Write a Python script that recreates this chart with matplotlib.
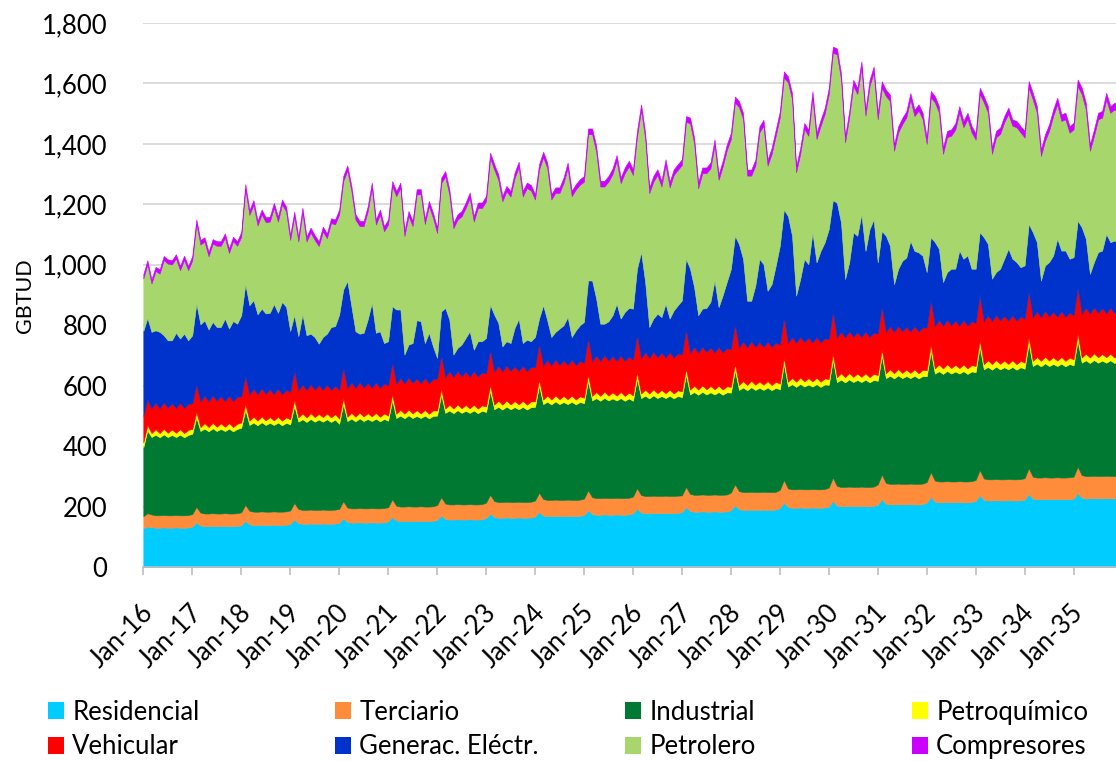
import matplotlib
matplotlib.use('Agg')
import matplotlib.pyplot as plt
import numpy as np
import matplotlib.transforms as mtransforms
from matplotlib.ticker import FuncFormatter
from matplotlib.patches import Patch

plt.rcParams['font.family'] = ['Lato', 'DejaVu Sans']

# ---------------- data (monthly, Jan-16 ... Dec-35) ----------------
tick_labels = ['Jan-16', 'Jan-17', 'Jan-18', 'Jan-19', 'Jan-20', 'Jan-21', 'Jan-22',
               'Jan-23', 'Jan-24', 'Jan-25', 'Jan-26', 'Jan-27', 'Jan-28', 'Jan-29',
               'Jan-30', 'Jan-31', 'Jan-32', 'Jan-33', 'Jan-34', 'Jan-35']

labels = ['Residencial', 'Terciario', 'Industrial', 'Petroquímico',
          'Vehicular', 'Generac. Eléctr.', 'Petrolero', 'Compresores']

residencial = [
    128, 134, 132, 130, 130, 131, 130, 130, 131, 130, 130, 131,
    134, 148, 137, 135, 135, 136, 135, 135, 136, 135, 135, 136,
    138, 153, 141, 139, 139, 140, 139, 139, 140, 139, 139, 140,
    142, 157, 145, 143, 143, 144, 143, 143, 144, 143, 143, 144,
    146, 161, 149, 147, 147, 148, 147, 147, 148, 147, 147, 148,
    151, 166, 154, 152, 152, 153, 152, 152, 153, 152, 152, 153,
    156, 171, 159, 157, 157, 158, 157, 157, 158, 157, 157, 158,
    162, 177, 165, 163, 163, 164, 163, 163, 164, 163, 163, 164,
    167, 182, 170, 168, 168, 169, 168, 168, 169, 168, 168, 169,
    172, 188, 175, 173, 173, 174, 173, 173, 174, 173, 173, 174,
    177, 193, 180, 178, 178, 179, 178, 178, 179, 178, 178, 179,
    182, 198, 185, 183, 183, 184, 183, 183, 184, 183, 183, 184,
    188, 204, 191, 189, 189, 190, 189, 189, 190, 189, 189, 190,
    195, 214, 198, 196, 196, 197, 196, 196, 197, 196, 196, 197,
    200, 219, 203, 201, 201, 202, 201, 201, 202, 201, 201, 202,
    206, 225, 209, 207, 207, 208, 207, 207, 208, 207, 207, 208,
    213, 232, 216, 214, 214, 215, 214, 214, 215, 214, 214, 215,
    219, 238, 222, 220, 220, 221, 220, 220, 221, 220, 220, 221,
    223, 242, 226, 224, 224, 225, 224, 224, 225, 224, 224, 225,
    226, 245, 229, 227, 227, 228, 227, 227, 228, 227, 227, 228,
]

terciario = [
    40, 44, 42, 41, 41, 41, 41, 41, 41, 41, 41, 41,
    41, 51, 43, 42, 42, 42, 42, 42, 42, 42, 42, 42,
    43, 53, 45, 44, 44, 44, 44, 44, 44, 44, 44, 44,
    45, 55, 47, 46, 46, 46, 46, 46, 46, 46, 46, 46,
    46, 57, 48, 47, 47, 47, 47, 47, 47, 47, 47, 47,
    47, 58, 49, 48, 48, 48, 48, 48, 48, 48, 48, 48,
    49, 60, 51, 50, 50, 50, 50, 50, 50, 50, 50, 50,
    51, 62, 53, 52, 52, 52, 52, 52, 52, 52, 52, 52,
    53, 64, 55, 54, 54, 54, 54, 54, 54, 54, 54, 54,
    54, 66, 56, 55, 55, 55, 55, 55, 55, 55, 55, 55,
    56, 68, 58, 57, 57, 57, 57, 57, 57, 57, 57, 57,
    55, 67, 57, 56, 56, 56, 56, 56, 56, 56, 56, 56,
    58, 70, 60, 59, 59, 59, 59, 59, 59, 59, 59, 59,
    60, 74, 62, 61, 61, 61, 61, 61, 61, 61, 61, 61,
    63, 77, 65, 64, 64, 64, 64, 64, 64, 64, 64, 64,
    67, 81, 69, 68, 68, 68, 68, 68, 68, 68, 68, 68,
    68, 82, 70, 69, 69, 69, 69, 69, 69, 69, 69, 69,
    69, 83, 71, 70, 70, 70, 70, 70, 70, 70, 70, 70,
    71, 85, 73, 72, 72, 72, 72, 72, 72, 72, 72, 72,
    73, 87, 75, 74, 74, 74, 74, 74, 74, 74, 74, 74,
]

industrial = [
    228, 274, 256, 267, 258, 267, 259, 266, 258, 267, 258, 265,
    266, 296, 270, 281, 272, 281, 273, 280, 272, 281, 272, 279,
    280, 314, 284, 295, 286, 295, 287, 294, 286, 295, 286, 293,
    285, 322, 289, 300, 291, 300, 292, 299, 291, 300, 291, 298,
    282, 322, 286, 297, 288, 297, 289, 296, 288, 297, 288, 295,
    286, 328, 290, 301, 292, 301, 293, 300, 292, 301, 292, 299,
    296, 340, 300, 311, 302, 311, 303, 310, 302, 311, 302, 309,
    300, 344, 304, 315, 306, 315, 307, 314, 306, 315, 306, 313,
    310, 354, 314, 325, 316, 325, 317, 324, 316, 325, 316, 323,
    316, 362, 320, 331, 322, 331, 323, 330, 322, 331, 322, 329,
    317, 363, 321, 332, 323, 332, 324, 331, 323, 332, 323, 330,
    325, 371, 329, 340, 331, 340, 332, 339, 331, 340, 331, 338,
    331, 377, 335, 346, 337, 346, 338, 345, 337, 346, 337, 344,
    333, 383, 337, 348, 339, 348, 340, 347, 339, 348, 339, 346,
    340, 390, 344, 355, 346, 355, 347, 354, 346, 355, 346, 353,
    343, 393, 347, 358, 349, 358, 350, 357, 349, 358, 349, 356,
    350, 400, 354, 365, 356, 365, 357, 364, 356, 365, 356, 363,
    357, 407, 361, 372, 363, 372, 364, 371, 363, 372, 363, 370,
    362, 412, 366, 377, 368, 377, 369, 376, 368, 377, 368, 375,
    368, 418, 372, 383, 374, 383, 375, 382, 374, 383, 374, 381,
]

petroquimico = [
    16, 18, 13, 18, 14, 18, 14, 18, 14, 18, 14, 17,
    16, 18, 13, 18, 14, 18, 14, 18, 14, 18, 14, 17,
    17, 19, 14, 19, 15, 19, 15, 19, 15, 19, 15, 18,
    17, 19, 14, 19, 15, 19, 15, 19, 15, 19, 15, 18,
    17, 19, 14, 19, 15, 19, 15, 19, 15, 19, 15, 18,
    17, 19, 14, 19, 15, 19, 15, 19, 15, 19, 15, 18,
    17, 19, 14, 19, 15, 19, 15, 19, 15, 19, 15, 18,
    18, 20, 15, 20, 16, 20, 16, 20, 16, 20, 16, 19,
    18, 20, 15, 20, 16, 20, 16, 20, 16, 20, 16, 19,
    18, 20, 15, 20, 16, 20, 16, 20, 16, 20, 16, 19,
    18, 20, 15, 20, 16, 20, 16, 20, 16, 20, 16, 19,
    19, 21, 16, 21, 17, 21, 17, 21, 17, 21, 17, 20,
    19, 21, 16, 21, 17, 21, 17, 21, 17, 21, 17, 20,
    19, 21, 16, 21, 17, 21, 17, 21, 17, 21, 17, 20,
    19, 21, 16, 21, 17, 21, 17, 21, 17, 21, 17, 20,
    19, 21, 16, 21, 17, 21, 17, 21, 17, 21, 17, 20,
    20, 22, 17, 22, 18, 22, 18, 22, 18, 22, 18, 21,
    20, 22, 17, 22, 18, 22, 18, 22, 18, 22, 18, 21,
    20, 22, 17, 22, 18, 22, 18, 22, 18, 22, 18, 21,
    20, 22, 17, 22, 18, 22, 18, 22, 18, 22, 18, 21,
]

vehicular = [
    88, 85, 81, 88, 82, 88, 83, 87, 82, 88, 83, 86,
    85, 91, 84, 91, 85, 91, 86, 90, 85, 91, 86, 89,
    87, 93, 86, 93, 87, 93, 88, 92, 87, 93, 88, 91,
    90, 96, 89, 96, 90, 96, 91, 95, 90, 96, 91, 94,
    95, 101, 94, 101, 95, 101, 96, 100, 95, 101, 96, 99,
    100, 106, 99, 106, 100, 106, 101, 105, 100, 106, 101, 104,
    105, 111, 104, 111, 105, 111, 106, 110, 105, 111, 106, 109,
    110, 116, 109, 116, 110, 116, 111, 115, 110, 116, 111, 114,
    113, 119, 112, 119, 113, 119, 114, 118, 113, 119, 114, 117,
    115, 121, 114, 121, 115, 121, 116, 120, 115, 121, 116, 119,
    118, 124, 117, 124, 118, 124, 119, 123, 118, 124, 119, 122,
    122, 128, 121, 128, 122, 128, 123, 127, 122, 128, 123, 126,
    125, 131, 124, 131, 125, 131, 126, 130, 125, 131, 126, 129,
    129, 135, 128, 135, 129, 135, 130, 134, 129, 135, 130, 133,
    132, 138, 131, 138, 132, 138, 133, 137, 132, 138, 133, 136,
    137, 143, 136, 143, 137, 143, 138, 142, 137, 143, 138, 141,
    141, 147, 140, 147, 141, 147, 142, 146, 141, 147, 142, 145,
    143, 149, 142, 149, 143, 149, 144, 148, 143, 149, 144, 147,
    145, 151, 144, 151, 145, 151, 146, 150, 145, 151, 146, 149,
    146, 152, 145, 152, 146, 152, 147, 151, 146, 152, 147, 150,
]

generac = [
    281, 269, 254, 239, 253, 222, 223, 208, 249, 212, 246, 210,
    225, 268, 256, 249, 238, 243, 244, 229, 273, 222, 265, 242,
    268, 304, 296, 293, 265, 264, 266, 253, 298, 251, 305, 275,
    202, 184, 180, 232, 182, 167, 174, 137, 175, 168, 208, 197,
    249, 258, 355, 252, 188, 160, 181, 210, 281, 164, 187, 134,
    146, 186, 246, 226, 96, 109, 132, 193, 205, 115, 167, 108,
    69, 145, 229, 171, 74, 76, 105, 112, 150, 71, 117, 103,
    117, 149, 189, 142, 83, 80, 92, 127, 173, 75, 104, 85,
    100, 83, 200, 130, 94, 91, 120, 116, 159, 75, 115, 118,
    136, 191, 268, 188, 124, 104, 130, 135, 189, 122, 162, 161,
    169, 219, 351, 232, 102, 110, 144, 118, 178, 111, 156, 159,
    179, 235, 279, 198, 124, 126, 146, 151, 238, 132, 189, 219,
    265, 293, 342, 273, 154, 134, 202, 275, 274, 168, 208, 255,
    327, 356, 420, 335, 156, 191, 275, 243, 364, 247, 303, 317,
    364, 369, 446, 361, 193, 228, 345, 319, 406, 267, 357, 375,
    236, 249, 319, 266, 158, 188, 233, 229, 300, 249, 262, 237,
    184, 208, 278, 236, 145, 158, 187, 172, 248, 203, 232, 174,
    179, 209, 278, 236, 140, 142, 171, 189, 238, 187, 194, 163,
    177, 223, 282, 229, 121, 151, 180, 187, 258, 201, 219, 178,
    192, 222, 286, 228, 131, 150, 201, 191, 262, 217, 240, 221,
]

petrolero = [
    174, 177, 160, 196, 193, 248, 254, 251, 246, 226, 244, 232,
    248, 263, 264, 260, 242, 259, 269, 269, 267, 250, 264, 258,
    260, 315, 299, 315, 294, 312, 302, 302, 319, 302, 323, 315,
    301, 327, 313, 337, 310, 335, 321, 323, 349, 316, 344, 337,
    331, 359, 366, 381, 370, 356, 353, 358, 381, 358, 386, 370,
    386, 397, 375, 403, 392, 425, 387, 416, 420, 394, 419, 425,
    413, 424, 435, 413, 418, 424, 424, 430, 441, 424, 441, 441,
    452, 485, 480, 473, 480, 496, 485, 496, 502, 485, 502, 499,
    455, 493, 490, 504, 455, 460, 449, 471, 493, 466, 466, 465,
    464, 484, 484, 486, 454, 454, 462, 467, 473, 448, 459, 468,
    442, 437, 470, 475, 443, 453, 459, 432, 459, 434, 448, 448,
    448, 453, 481, 476, 420, 448, 446, 442, 448, 421, 426, 436,
    430, 441, 453, 463, 414, 414, 397, 419, 458, 414, 431, 430,
    425, 437, 442, 452, 408, 414, 430, 425, 447, 408, 414, 425,
    447, 488, 491, 474, 452, 480, 485, 469, 486, 447, 474, 486,
    473, 474, 462, 479, 441, 451, 452, 463, 468, 446, 469, 452,
    424, 463, 462, 451, 424, 446, 440, 460, 457, 435, 451, 451,
    427, 457, 446, 435, 413, 446, 446, 451, 446, 440, 446, 446,
    423, 451, 439, 428, 412, 412, 434, 461, 445, 429, 434, 417,
    423, 445, 440, 428, 407, 417, 439, 440, 445, 428, 434, 433,
]

compresores = [
    14, 14, 14, 14, 14, 14, 14, 14, 14, 14, 14, 14,
    15, 15, 15, 15, 15, 15, 15, 15, 15, 15, 15, 15,
    16, 16, 16, 16, 16, 16, 16, 16, 16, 16, 16, 16,
    16, 16, 16, 16, 16, 16, 16, 16, 16, 16, 16, 16,
    17, 17, 17, 17, 17, 17, 17, 17, 17, 17, 17, 17,
    17, 17, 17, 17, 17, 17, 17, 17, 17, 17, 17, 17,
    18, 18, 18, 18, 18, 18, 18, 18, 18, 18, 18, 18,
    18, 18, 18, 18, 18, 18, 18, 18, 18, 18, 18, 18,
    18, 18, 18, 18, 18, 18, 18, 18, 18, 18, 18, 18,
    19, 19, 19, 19, 19, 19, 19, 19, 19, 19, 19, 19,
    19, 19, 19, 19, 19, 19, 19, 19, 19, 19, 19, 19,
    19, 19, 19, 19, 19, 19, 19, 19, 19, 19, 19, 19,
    20, 20, 20, 20, 20, 20, 20, 20, 20, 20, 20, 20,
    20, 20, 20, 20, 20, 20, 20, 20, 20, 20, 20, 20,
    20, 20, 20, 20, 20, 20, 20, 20, 20, 20, 20, 20,
    21, 21, 21, 21, 21, 21, 21, 21, 21, 21, 21, 21,
    21, 21, 21, 21, 21, 21, 21, 21, 21, 21, 21, 21,
    21, 21, 21, 21, 21, 21, 21, 21, 21, 21, 21, 21,
    22, 22, 22, 22, 22, 22, 22, 22, 22, 22, 22, 22,
    22, 22, 22, 22, 22, 22, 22, 22, 22, 22, 22, 22,
]

colors = ['#00CCFF', '#FF8C3A', '#007A33', '#FFFF00',
          '#FF0000', '#0033CC', '#A6D66C', '#CC00FF']

# ---------------- figure ----------------
W, H = 1116, 761
fig = plt.figure(figsize=(W / 100, H / 100), dpi=100)
x0_px, y0_px, ytop_px = 143.3, 567, 23
ax = fig.add_axes([x0_px / W, 1 - y0_px / H, 1 - x0_px / W, (y0_px - ytop_px) / H])

series = [residencial, terciario, industrial, petroquimico,
          vehicular, generac, petrolero, compresores]
months = np.arange(len(residencial))
ax.stackplot(months, *series, colors=colors, labels=labels,
             linewidth=0.4, edgecolor='face', zorder=2)

ax.set_xlim(0, 238.4)
ax.set_ylim(0, 1800)
ax.set_yticks(np.arange(0, 1801, 200))
ax.yaxis.set_major_formatter(FuncFormatter(lambda v, p: f'{int(v):,}'))
ax.yaxis.grid(True, color='#D9D9D9', linewidth=1.3, zorder=0)
ax.set_axisbelow(True)

for s in ['left', 'top', 'right']:
    ax.spines[s].set_visible(False)
ax.spines['bottom'].set_color('#BFBFBF')
ax.spines['bottom'].set_linewidth(1.2)
ax.spines['bottom'].set_zorder(3)

ax.set_xticks(np.arange(0, 12 * len(tick_labels), 12))
ax.set_xticklabels(tick_labels, rotation=45, ha='right', va='center',
                   rotation_mode='anchor', fontsize=18.5)
ax.tick_params(axis='x', length=6, width=1.2, color='#BFBFBF', pad=24)
ax.tick_params(axis='y', length=0, pad=26, labelsize=18.5)

offset = mtransforms.ScaledTranslation(6 / 100, 0, fig.dpi_scale_trans)
for lab in ax.get_xticklabels():
    lab.set_transform(lab.get_transform() + offset)

fig.text(25 / W, 1 - 296 / H, 'GBTUD', rotation=90, ha='center', va='center',
         fontsize=15.5)

# legend: four columns of two entries
col_x = [48, 335, 625, 912]
order = [(0, 4), (1, 5), (2, 6), (3, 7)]
for cx, (a, b) in zip(col_x, order):
    handles = [Patch(facecolor=colors[a], edgecolor='none'),
               Patch(facecolor=colors[b], edgecolor='none')]
    fig.legend(handles, [labels[a], labels[b]], loc='center left',
               bbox_to_anchor=(cx / W, 1 - 729.5 / H), frameon=False,
               fontsize=18.5, handlelength=0.62, handleheight=0.66,
               handletextpad=0.32, labelspacing=0.38, borderpad=0,
               borderaxespad=0)

fig.savefig('out.png', dpi=100)
